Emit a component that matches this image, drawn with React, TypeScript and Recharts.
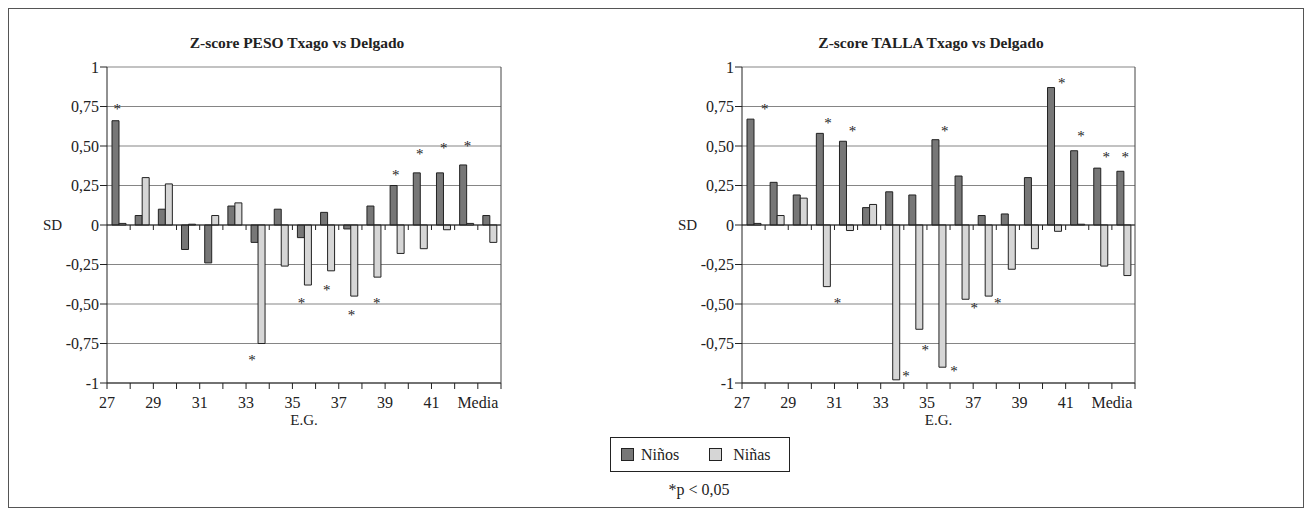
import {
  ComposedChart,
  Bar,
  Scatter,
  XAxis,
  YAxis,
  CartesianGrid,
  ReferenceLine,
} from 'recharts'

const categorias = ['27', '28', '29', '30', '31', '32', '33', '34', '35', '36', '37', '38', '39', '40', '41', '42', 'Media']

const ninosPeso = [0.66, 0.06, 0.1, -0.155, -0.24, 0.12, -0.11, 0.1, -0.08, 0.08, -0.025, 0.12, 0.25, 0.33, 0.33, 0.38, 0.06]
const ninasPeso = [0.01, 0.3, 0.26, 0.005, 0.06, 0.14, -0.75, -0.26, -0.38, -0.29, -0.45, -0.33, -0.18, -0.15, -0.03, 0.01, -0.11]

const ninosTalla = [0.67, 0.27, 0.19, 0.58, 0.53, 0.11, 0.21, 0.19, 0.54, 0.31, 0.06, 0.07, 0.3, 0.87, 0.47, 0.36, 0.34]
const ninasTalla = [0.01, 0.06, 0.17, -0.39, -0.035, 0.13, -0.98, -0.66, -0.9, -0.47, -0.45, -0.28, -0.15, -0.04, 0.005, -0.26, -0.32]

// asteriscos (p < 0,05): posicion en unidades de categoria y valor SD
const starsPesoX = [0.44, 6.26, 8.39, 9.48, 10.55, 11.64, 12.46, 13.49, 14.53, 15.55]
const starsPesoY = [0.75, -0.84, -0.48, -0.4, -0.56, -0.48, 0.33, 0.46, 0.5, 0.51]
const starsTallaX = [0.98, 3.72, 4.78, 8.77, 13.83, 14.66, 15.76, 16.58, 4.13, 7.09, 7.93, 9.17, 10.05, 11.06]
const starsTallaY = [0.745, 0.66, 0.61, 0.61, 0.91, 0.575, 0.44, 0.44, -0.48, -0.945, -0.78, -0.91, -0.515, -0.48]

const yTicks = [1, 0.75, 0.5, 0.25, 0, -0.25, -0.5, -0.75, -1]

const FONT = 'Liberation Serif'
const INK = '#222'
const DARK = '#777777'
const LIGHT = '#d6d6d6'

const fmtY = (v: number) => {
  if (v === 0) return '0'
  if (Math.abs(v) === 1) return String(v)
  return v.toFixed(2).replace('.', ',')
}

const CatTick = (props: any) => {
  const { x, y, payload, index, width } = props
  const n = categorias.length
  const bw = width ? width / n : 23.2
  const left = x - bw / 2
  return (
    <g>
      <line x1={left} x2={left} y1={y} y2={y + 6} stroke={INK} />
      {index === n - 1 && (
        <line x1={x + bw / 2} x2={x + bw / 2} y1={y} y2={y + 6} stroke={INK} />
      )}
      {index % 2 === 0 && (
        <text x={left} y={y + 25} textAnchor="middle" fontSize={16} fill={INK} fontFamily={FONT}>
          {payload.value}
        </text>
      )}
    </g>
  )
}

const ZeroAxis = (props: any) => {
  const { x1, y1, x2, y2 } = props
  const n = categorias.length
  const step = (x2 - x1) / n
  return (
    <g>
      <line x1={x1} y1={y1} x2={x2} y2={y2} stroke={INK} />
      {categorias.slice(1).map((_, i) => (
        <line
          key={i}
          x1={x1 + (i + 1) * step}
          x2={x1 + (i + 1) * step}
          y1={y1}
          y2={y1 + 5}
          stroke={INK}
        />
      ))}
    </g>
  )
}

const Star = (props: any) => {
  const { cx, cy } = props
  if (cx == null || cy == null || isNaN(cx) || isNaN(cy)) return <g />
  return (
    <text
      x={cx}
      y={cy + 7}
      textAnchor="middle"
      fontSize={15}
      fill={INK}
      fontFamily={FONT}
      style={{ opacity: 0.99 }}
    >
      *
    </text>
  )
}

interface PanelProps {
  ninos: number[]
  ninas: number[]
  starsX: number[]
  starsY: number[]
  rightMargin: number
}

function Panel({ ninos, ninas, starsX, starsY, rightMargin }: PanelProps) {
  const data = categorias.map((eg, i) => ({ eg, ninos: ninos[i], ninas: ninas[i] }))
  const stars = starsX.map((x, i) => ({ x, y: starsY[i] }))

  return (
    <ComposedChart
      width={500}
      height={424}
      data={data}
      margin={{ top: 58, right: rightMargin, left: 0, bottom: 0 }}
      barSize={7}
      barGap={0}
      style={{ fontFamily: FONT }}
    >
      <CartesianGrid vertical={false} stroke="#858585" />
      <XAxis
        dataKey="eg"
        interval={0}
        tickSize={0}
        tickMargin={0}
        tickLine={false}
        axisLine={{ stroke: INK }}
        height={50}
        tick={<CatTick />}
        label={{ value: 'E.G.', position: 'insideBottom', offset: 8, fontSize: 15, fill: INK, fontFamily: FONT }}
      />
      <XAxis xAxisId="s" type="number" dataKey="x" domain={[0, categorias.length]} hide allowDataOverflow />
      <YAxis
        width={98}
        domain={[-1, 1]}
        ticks={yTicks}
        interval={0}
        tickFormatter={fmtY}
        tickSize={7}
        tickMargin={1}
        axisLine={{ stroke: INK }}
        tickLine={{ stroke: INK }}
        tick={{ fill: INK, fontSize: 16, fontFamily: FONT }}
        allowDataOverflow
        label={{ value: 'SD', position: 'insideLeft', offset: 34, fontSize: 15, fill: INK, fontFamily: FONT }}
      />
      <YAxis
        yAxisId="r"
        orientation="right"
        width={1}
        domain={[-1, 1]}
        tick={false}
        tickLine={false}
        axisLine={{ stroke: '#444' }}
      />
      <ReferenceLine y={0} shape={<ZeroAxis />} />
      <Bar dataKey="ninos" fill={DARK} stroke={INK} strokeWidth={1} isAnimationActive={false} />
      <Bar dataKey="ninas" fill={LIGHT} stroke={INK} strokeWidth={1} isAnimationActive={false} />
      <Scatter
        xAxisId="s"
        data={stars}
        dataKey="y"
        shape={<Star />}
        isAnimationActive={false}
        legendType="none"
      />
    </ComposedChart>
  )
}

const titleStyle = (center: number): React.CSSProperties => ({
  position: 'absolute',
  left: center - 160,
  width: 320,
  top: 24,
  textAlign: 'center',
  fontWeight: 'bold',
  fontSize: 15.5,
  lineHeight: '20px',
  color: INK,
  fontFamily: FONT,
})

const swatch = (fill: string, gap: number): React.CSSProperties => ({
  display: 'inline-block',
  width: 11,
  height: 11,
  background: fill,
  border: `1px solid ${INK}`,
  marginRight: gap,
})

export default function App() {
  return (
    <div
      style={{
        position: 'relative',
        width: 1296,
        height: 500,
        boxSizing: 'border-box',
        border: '1px solid #555',
        background: '#fff',
        fontFamily: FONT,
      }}
    >
      <div style={titleStyle(288)}>Z-score PESO Txago vs Delgado</div>
      <div style={titleStyle(922)}>Z-score TALLA Txago vs Delgado</div>

      <div style={{ position: 'absolute', left: 0, top: 0 }}>
        <Panel ninos={ninosPeso} ninas={ninasPeso} starsX={starsPesoX} starsY={starsPesoY} rightMargin={7} />
      </div>
      <div style={{ position: 'absolute', left: 635, top: 0 }}>
        <Panel ninos={ninosTalla} ninas={ninasTalla} starsX={starsTallaX} starsY={starsTallaY} rightMargin={8} />
      </div>

      <div
        style={{
          position: 'absolute',
          left: 601,
          top: 428,
          width: 180,
          height: 35,
          boxSizing: 'border-box',
          border: `1px solid ${INK}`,
          display: 'flex',
          alignItems: 'center',
          paddingLeft: 10,
          fontSize: 16,
          color: INK,
        }}
      >
        <span style={{ display: 'flex', alignItems: 'center', marginRight: 30 }}>
          <span style={swatch(DARK, 7)} />
          Niños
        </span>
        <span style={{ display: 'flex', alignItems: 'center' }}>
          <span style={swatch(LIGHT, 11)} />
          Niñas
        </span>
      </div>
      <div
        style={{
          position: 'absolute',
          left: 610,
          width: 160,
          top: 471,
          textAlign: 'center',
          fontSize: 16,
          lineHeight: '20px',
          color: INK,
        }}
      >
        *p &lt; 0,05
      </div>
    </div>
  )
}
